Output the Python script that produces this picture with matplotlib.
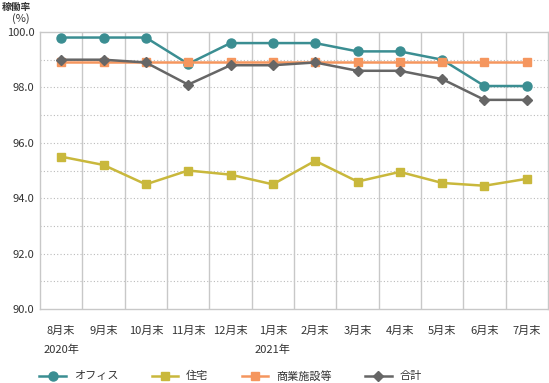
import matplotlib
matplotlib.use("Agg")
import matplotlib.pyplot as plt

plt.rcParams['font.family'] = ['Noto Sans CJK JP', 'DejaVu Sans']

months = ["8月末", "9月末", "10月末", "11月末", "12月末", "1月末", "2月末", "3月末", "4月末", "5月末", "6月末", "7月末"]
years = {0: "2020年", 5: "2021年"}
office = [99.8, 99.8, 99.8, 98.85, 99.6, 99.6, 99.6, 99.3, 99.3, 99.0, 98.05, 98.05]
residential = [95.5, 95.2, 94.5, 95.0, 94.85, 94.5, 95.35, 94.6, 94.95, 94.55, 94.45, 94.7]
commercial = [98.9] * 12
total = [99.0, 99.0, 98.9, 98.1, 98.8, 98.8, 98.9, 98.6, 98.6, 98.3, 97.55, 97.55]
yticks = [90, 92, 94, 96, 98, 100]

series = [
    ("オフィス", office, "#3b8e92", "o", 6.5),
    ("住宅", residential, "#c9b83c", "s", 6.0),
    ("商業施設等", commercial, "#f5965e", "s", 6.0),
    ("合計", total, "#666666", "D", 5.5),
]

fig = plt.figure(figsize=(5.49, 3.83), dpi=100)
ax = fig.add_axes([40/549, 1-309/383, 508/549, (309-32)/383])

x = list(range(len(months)))
lines = {}
for i in [1, 2, 3, 0]:
    name, vals, col, mk, ms = series[i]
    ln, = ax.plot(x, vals, color=col, marker=mk, markersize=ms, linewidth=1.8,
                  label=name, zorder=3 + i)
    lines[i] = ln

ax.set_xlim(-0.5, len(months) - 0.5)
ax.set_ylim(90, 100)
ax.set_yticks(yticks)
ax.set_yticklabels([f"{v:.1f}" for v in yticks])
ax.minorticks_off()

for yv in range(91, 100):
    ax.axhline(yv, color="#bbbbbb", linestyle=(0, (1, 2)), linewidth=0.8, zorder=1)
for xv in range(1, len(months)):
    ax.axvline(xv - 0.5, color="#c8c8c8", linewidth=1.0, zorder=1)

for s in ax.spines.values():
    s.set_color("#c8c8c8")
    s.set_linewidth(1.0)

ax.set_xticks(x)
ax.set_xticklabels(months)
ax.tick_params(axis="both", which="both", length=0, labelsize=8, colors="#333333")
ax.tick_params(axis="x", pad=12)
ax.tick_params(axis="y", pad=4)

for xi, label in years.items():
    ax.text(xi, -0.13, label, transform=ax.get_xaxis_transform(), ha="center",
            va="top", fontsize=8, color="#333333")

fig.text(2/549, 1-2/383, "稼働率", fontsize=7, fontweight="bold", color="#333333",
         ha="left", va="top")
fig.text(12/549, 1-13/383, "(%)", fontsize=8, color="#333333", ha="left", va="top")

handles = [lines[i] for i in range(4)]
fig.legend(handles, [series[i][0] for i in range(4)], loc="center",
           bbox_to_anchor=(0.42, 1-376/383), ncol=4, frameon=False, fontsize=8,
           handlelength=2.4, columnspacing=3.0, handletextpad=0.7,
           labelcolor="#333333")

fig.savefig("out.png", dpi=100)
